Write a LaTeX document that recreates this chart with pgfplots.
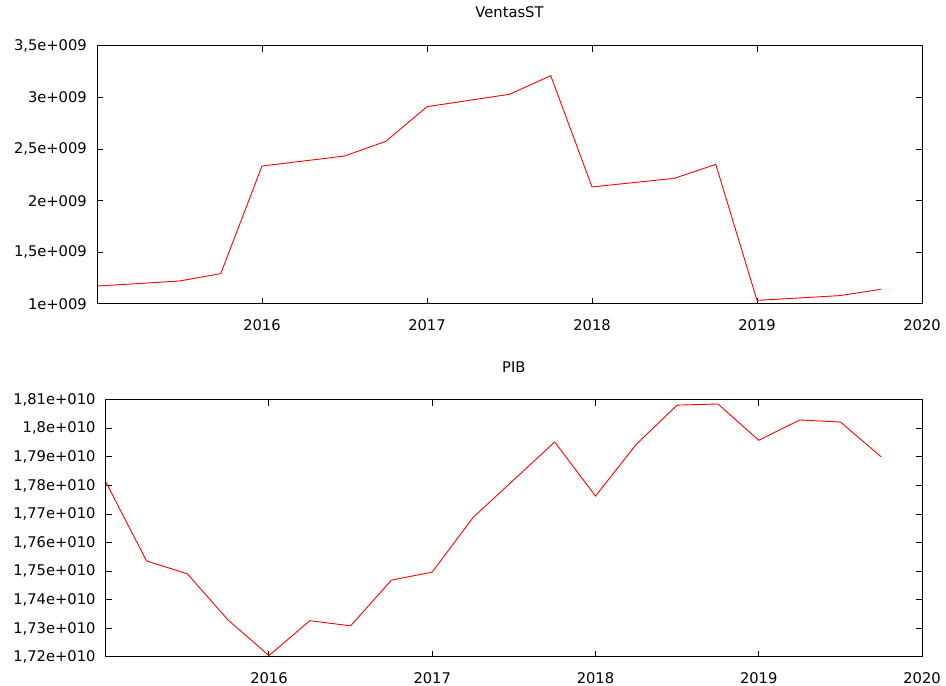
\documentclass[border=0pt]{standalone}
\usepackage{fontspec}
\setmainfont{DejaVu Sans}
\usepackage{pgfplots}
\pgfplotsset{compat=1.18}
\begin{document}
\begin{tikzpicture}[x=1bp,y=1bp,font=\fontsize{14.7bp}{17bp}\selectfont]
\useasboundingbox (0,0) rectangle (946,686);
\pgfplotsset{
  gp/.style={
    scale only axis,
    anchor=south west,
    axis line style={line width=1bp, black},
    every tick/.style={line width=1bp, black},
    major tick length=6bp,
    tick align=inside,
    xtick pos=both, ytick pos=both,
    scaled y ticks=false,
    xmin=2015, xmax=2020,
    xtick={2016,2017,2018,2019,2020},
    xticklabels={2016,2017,2018,2019,2020},
    xticklabel style={anchor=center, yshift=-21bp, inner sep=0pt},
    yticklabel style={anchor=east, inner sep=0pt, xshift=-10bp},
    title style={at={(0.5,1)}, anchor=center, inner sep=0pt},
  }
}
\begin{axis}[gp,
  at={(97bp,382bp)}, width=825bp, height=258bp,
  ymin=1e9, ymax=3.5e9,
  ytick={1e9,1.5e9,2e9,2.5e9,3e9,3.5e9},
  yticklabels={1e+009,{1,5e+009},2e+009,{2,5e+009},3e+009,{3,5e+009}},
  title={VentasST}, title style={yshift=28bp}]
\addplot[red, line width=0.9bp, mark=none] coordinates {
(2015.00,1.174e9) (2015.25,1.198e9) (2015.50,1.223e9) (2015.75,1.294e9)
(2016.00,2.337e9) (2016.25,2.385e9) (2016.50,2.434e9) (2016.75,2.576e9)
(2017.00,2.912e9) (2017.25,2.972e9) (2017.50,3.032e9) (2017.75,3.212e9)
(2018.00,2.134e9) (2018.25,2.176e9) (2018.50,2.218e9) (2018.75,2.353e9)
(2019.00,1.035e9) (2019.25,1.058e9) (2019.50,1.081e9) (2019.75,1.142e9)
};
\end{axis}
\begin{axis}[gp,
  at={(105.7bp,29bp)}, width=816.3bp, height=257.3bp,
  ymin=1.72e10, ymax=1.81e10,
  ytick={1.72e10,1.73e10,1.74e10,1.75e10,1.76e10,1.77e10,1.78e10,1.79e10,1.80e10,1.81e10},
  yticklabels={{1,72e+010},{1,73e+010},{1,74e+010},{1,75e+010},{1,76e+010},{1,77e+010},{1,78e+010},{1,79e+010},{1,8e+010},{1,81e+010}},
  title={PIB}, title style={yshift=27bp}]
\addplot[red, line width=0.9bp, mark=none] coordinates {
(2015.00,1.7813e10) (2015.25,1.7536e10) (2015.50,1.7491e10) (2015.75,1.7329e10)
(2016.00,1.7205e10) (2016.25,1.7327e10) (2016.50,1.7309e10) (2016.75,1.7469e10)
(2017.00,1.7497e10) (2017.25,1.7688e10) (2017.50,1.7820e10) (2017.75,1.7952e10)
(2018.00,1.7763e10) (2018.25,1.7944e10) (2018.50,1.8081e10) (2018.75,1.8085e10)
(2019.00,1.7958e10) (2019.25,1.8029e10) (2019.50,1.8022e10) (2019.75,1.7900e10)
};
\end{axis}
\end{tikzpicture}
\end{document}
